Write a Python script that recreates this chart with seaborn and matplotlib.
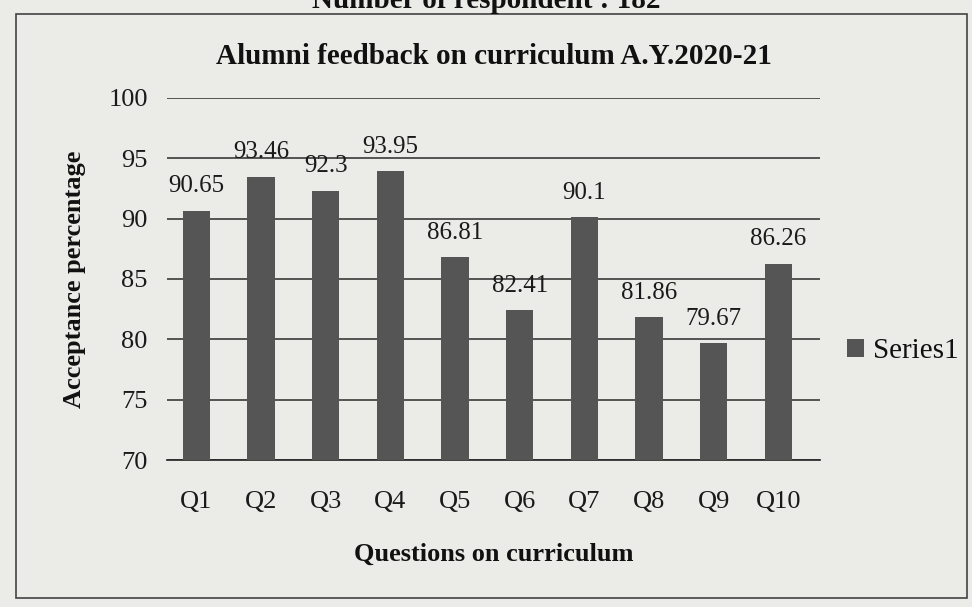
import matplotlib
matplotlib.use("Agg")
import matplotlib.pyplot as plt
import seaborn as sns
import pandas as pd
from matplotlib.patches import Rectangle

questions = ["Q1", "Q2", "Q3", "Q4", "Q5", "Q6", "Q7", "Q8", "Q9", "Q10"]
values = [90.65, 93.46, 92.3, 93.95, 86.81, 82.41, 90.1, 81.86, 79.67, 86.26]
value_labels = ["90.65", "93.46", "92.3", "93.95", "86.81", "82.41", "90.1", "81.86", "79.67", "86.26"]
y_ticks = [70, 75, 80, 85, 90, 95, 100]

sns.set_theme(style="white")
plt.rcParams["font.family"] = ["Liberation Serif", "DejaVu Serif"]

df = pd.DataFrame({"Question": questions, "Value": values})

bg = "#ebebe8"
fig = plt.figure(figsize=(9.72, 6.07), dpi=100, facecolor=bg)
ax = fig.add_axes([0.172, 0.242, 0.672, 0.597])
ax.set_facecolor(bg)

sns.barplot(data=df, x="Question", y="Value", color="#555555", width=0.42,
            saturation=1, ax=ax, label="Series1", zorder=3, edgecolor="#555555", linewidth=0)

ax.set_xlim(-0.45, 9.65)
ax.set_ylim(70, 100)
ax.set_yticks(y_ticks)
ax.set_yticklabels([str(t) for t in y_ticks], fontsize=19, color="#1a1a1a")
ax.tick_params(axis="x", labelsize=19, length=0, pad=22, labelcolor="#1a1a1a")
ax.tick_params(axis="y", length=0, pad=14)
ax.yaxis.grid(True, color="#2a2a2a", linewidth=1.1, zorder=0)
for s in ["top", "right", "left"]:
    ax.spines[s].set_visible(False)
ax.spines["bottom"].set_color("#2a2a2a")

for i, (v, lab) in enumerate(zip(values, value_labels)):
    ax.text(i, v + 1.1, lab, ha="center", va="bottom", fontsize=18, color="#1a1a1a", zorder=4)

ax.set_xlabel("Questions on curriculum", fontsize=19, fontweight="bold", labelpad=22, color="#111111")
ax.set_ylabel("Acceptance percentage", fontsize=19, fontweight="bold", labelpad=16, color="#111111")
ax.set_title("Alumni feedback on curriculum A.Y.2020-21", fontsize=21, fontweight="bold", pad=24,
             color="#111111")

leg = ax.legend(loc="center left", bbox_to_anchor=(1.0, 0.30), frameon=False, fontsize=21,
                handlelength=0.6, handleheight=0.6, handletextpad=0.3)
for t in leg.get_texts():
    t.set_color("#111111")

# outer frame
fig.add_artist(Rectangle((0.016, 0.015), 0.979, 0.962, transform=fig.transFigure,
                         fill=False, edgecolor="#444444", linewidth=1.2))
fig.text(0.5, 1.0, "Number of respondent : 182", ha="center", va="center",
         fontsize=21, fontweight="bold", color="#111111")

fig.savefig("out.png", dpi=100, facecolor=bg)
